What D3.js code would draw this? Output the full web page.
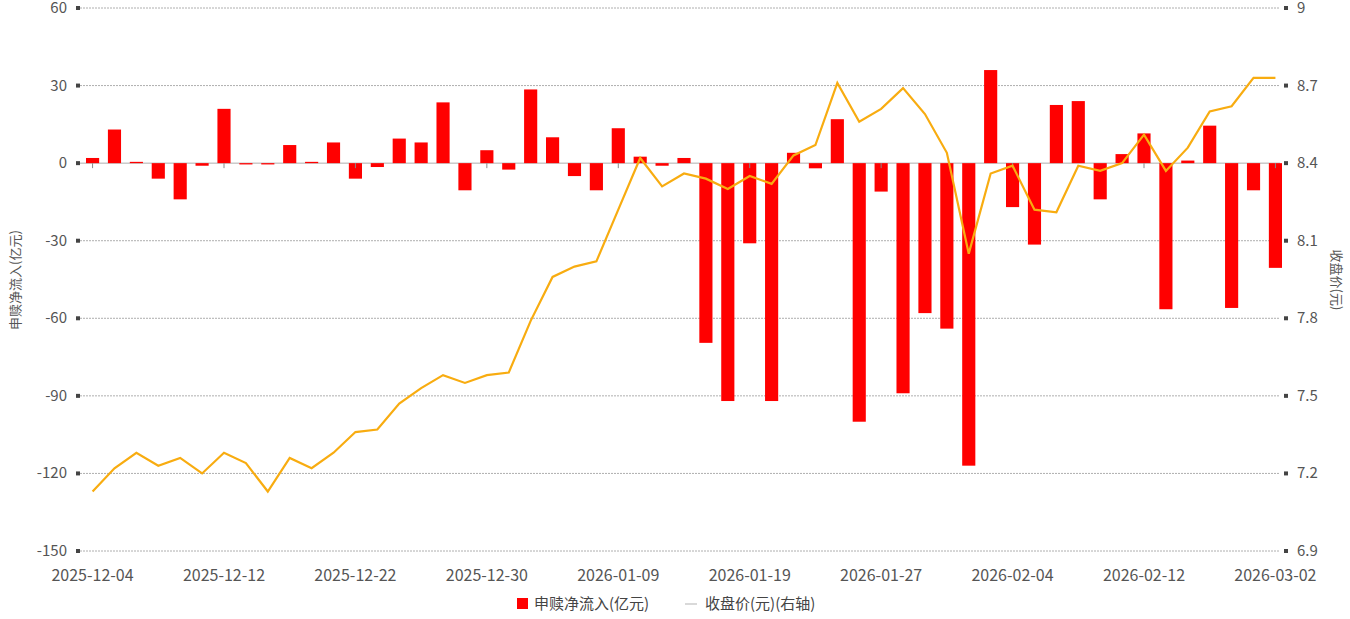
<!DOCTYPE html>
<html>
<head>
<meta charset="utf-8">
<script src="https://cdn.jsdelivr.net/npm/d3@7"></script>
<style>
body{margin:0;background:#fff;font-family:"Noto Sans CJK SC","Noto Sans",sans-serif;}
</style>
</head>
<body>
<svg id="chart" width="1350" height="619"></svg>
<script>
var dates = ["2025-12-04","2025-12-05","2025-12-08","2025-12-09","2025-12-10","2025-12-11","2025-12-12",
 "2025-12-15","2025-12-16","2025-12-17","2025-12-18","2025-12-19","2025-12-22",
 "2025-12-23","2025-12-24","2025-12-25","2025-12-26","2025-12-29","2025-12-30",
 "2025-12-31","2026-01-05","2026-01-06","2026-01-07","2026-01-08","2026-01-09",
 "2026-01-12","2026-01-13","2026-01-14","2026-01-15","2026-01-16","2026-01-19",
 "2026-01-20","2026-01-21","2026-01-22","2026-01-23","2026-01-26","2026-01-27",
 "2026-01-28","2026-01-29","2026-01-30","2026-02-02","2026-02-03","2026-02-04",
 "2026-02-05","2026-02-06","2026-02-09","2026-02-10","2026-02-11","2026-02-12",
 "2026-02-13","2026-02-24","2026-02-25","2026-02-26","2026-02-27","2026-03-02"]
var netFlow = [2,13,0.5,-6,-14,-1,21,-0.5,-0.5,7,0.5,8,-6,-1.5,9.5,8,23.5,-10.5,5,-2.5,
 28.5,10,-5,-10.5,13.5,2.5,-1,2,-69.5,-92,-31,-92,4,-2,17,-100,-11,-89,-58,-64,
 -117,36,-17,-31.5,22.5,24,-14,3.5,11.5,-56.5,1,14.5,-56,-10.5,-40.5]
var closePrice = [7.13,7.22,7.28,7.23,7.26,7.20,7.28,7.24,7.13,7.26,7.22,7.28,7.36,7.37,7.47,
 7.53,7.58,7.55,7.58,7.59,7.79,7.96,8.00,8.02,8.22,8.42,8.31,8.36,8.34,8.30,8.35,8.32,
 8.43,8.47,8.71,8.56,8.61,8.69,8.59,8.44,8.05,8.36,8.39,8.22,8.21,8.39,8.37,8.40,8.51,
 8.37,8.46,8.60,8.62,8.73,8.73]
var leftTicks = [60,30,0,-30,-60,-90,-120,-150]
var rightTicks = [9,8.7,8.4,8.1,7.8,7.5,7.2,6.9]

var svg = d3.select("#chart")
var plotTop = 8, plotBottom = 551, plotLeft = 80, plotRight = 1280

var x = d3.scaleBand().domain(dates).range([86,1282]).paddingInner(0.4).paddingOuter(0)
var yL = d3.scaleLinear().domain([-150,60]).range([plotBottom,plotTop])
var yR = d3.scaleLinear().domain([6.9,9]).range([plotBottom,plotTop])

// grid
svg.selectAll(".grid").data(leftTicks).enter().append("line")
  .attr("x1",plotLeft).attr("x2",plotRight)
  .attr("y1",function(d){return yL(d)}).attr("y2",function(d){return yL(d)})
  .attr("stroke","#999").attr("stroke-width",0.8)
  .attr("stroke-dasharray",function(d){return d==0?null:"2,1"})

// left axis
svg.selectAll(".lt").data(leftTicks).enter().append("text")
  .attr("x",67).attr("y",function(d){return yL(d)+5})
  .attr("text-anchor","end").attr("font-size",15).attr("fill","#555").text(function(d){return d})
svg.selectAll(".lm").data(leftTicks).enter().append("rect")
  .attr("x",76).attr("y",function(d){return yL(d)-2}).attr("width",4).attr("height",4).attr("fill","#444")
// right axis
svg.selectAll(".rt").data(rightTicks).enter().append("text")
  .attr("x",1297).attr("y",function(d){return yR(d)+5})
  .attr("font-size",15).attr("fill","#555").text(function(d){return d3.format(".1~f")(d)})
svg.selectAll(".rm").data(rightTicks).enter().append("rect")
  .attr("x",1284).attr("y",function(d){return yR(d)-2}).attr("width",4).attr("height",4).attr("fill","#444")

svg.append("text").attr("transform","translate(20,280) rotate(-90)")
  .attr("text-anchor","middle").attr("font-size",13).attr("fill","#555").text("申赎净流入(亿元)")
svg.append("text").attr("transform","translate(1332,280) rotate(90)")
  .attr("text-anchor","middle").attr("font-size",13).attr("fill","#555").text("收盘价(元)")

// bars
svg.selectAll(".bar").data(netFlow).enter().append("rect")
  .attr("x",function(d,i){return x(dates[i])})
  .attr("width",x.bandwidth())
  .attr("y",function(d){return yL(Math.max(0,d))})
  .attr("height",function(d){return Math.abs(yL(d)-yL(0))})
  .attr("fill","#ff0000")

// zero-line ticks at labeled dates
var labelDates = dates.filter(function(d,i){return i%6==0})
svg.selectAll(".xt").data(labelDates).enter().append("line")
  .attr("x1",function(d){return x(d)+x.bandwidth()/2}).attr("x2",function(d){return x(d)+x.bandwidth()/2})
  .attr("y1",yL(0)).attr("y2",yL(0)+5).attr("stroke","#888")
svg.selectAll(".xl").data(labelDates).enter().append("text")
  .attr("x",function(d){return x(d)+x.bandwidth()/2}).attr("y",581)
  .attr("text-anchor","middle").attr("font-size",16).attr("fill","#555").text(function(d){return d})

// price line
var line = d3.line()
  .x(function(d,i){return x(dates[i])+x.bandwidth()/2})
  .y(function(d){return yR(d)})
svg.append("path").datum(closePrice).attr("d",line)
  .attr("fill","none").attr("stroke","#f8ac10").attr("stroke-width",2.2)

// legend
var lg = svg.append("g").attr("transform","translate(517,604)")
lg.append("rect").attr("x",0).attr("y",-6).attr("width",11).attr("height",11).attr("fill","#ff0000")
lg.append("text").attr("x",17).attr("y",5).attr("font-size",15).attr("fill","#444").text("申赎净流入(亿元)")
lg.append("line").attr("x1",168).attr("x2",180).attr("y1",0).attr("y2",0).attr("stroke","#ccc").attr("stroke-width",1.5)
lg.append("text").attr("x",188).attr("y",5).attr("font-size",15).attr("fill","#444").text("收盘价(元)(右轴)")
</script>
</body>
</html>
